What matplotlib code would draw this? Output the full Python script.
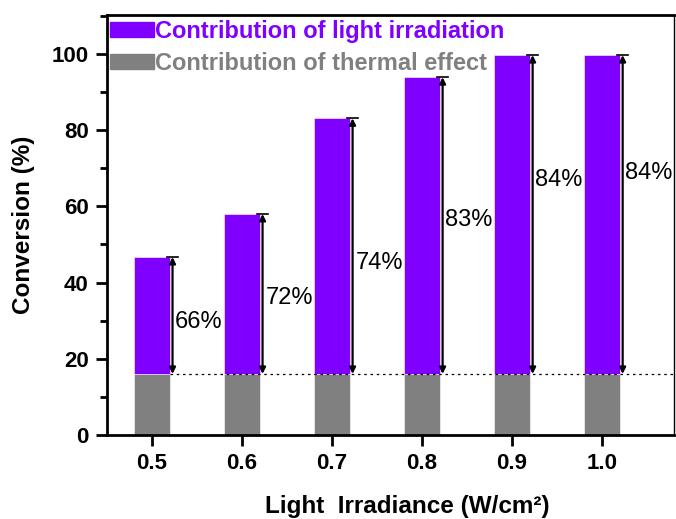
import numpy as np
import matplotlib
matplotlib.use('Agg')
import matplotlib.pyplot as plt
from matplotlib.patches import Patch
from matplotlib.ticker import MultipleLocator

plt.rcParams['font.family'] = ['Liberation Sans', 'DejaVu Sans']

irradiance = [0.5, 0.6, 0.7, 0.8, 0.9, 1.0]
tick_labels = ['0.5', '0.6', '0.7', '0.8', '0.9', '1.0']
thermal = [16, 16, 16, 16, 16, 16]
total = [46.7, 58.0, 83.1, 93.9, 99.7, 99.7]
light_share = ['66%', '72%', '74%', '83%', '84%', '84%']
label_y = [29.7, 36.0, 45.0, 56.4, 67.0, 68.8]

purple = '#8000ff'
grey = '#808080'
width = 0.04

fig = plt.figure(figsize=(6.76, 5.19), dpi=100)
ax = fig.add_axes([0.158, 0.162, 0.839, 0.809])

x = np.array(irradiance)
light = np.array(total) - np.array(thermal)
ax.bar(x, thermal, width, color=grey, edgecolor='white', linewidth=0.4)
ax.bar(x, light, width, bottom=thermal, color=purple, edgecolor='white', linewidth=0.4)

# dotted baseline of the thermal contribution
ax.plot([x[0] + width / 2, 1.08], [thermal[0], thermal[0]], ls=(0, (2, 3)), color='black', lw=0.9)

for xi, lo, hi, txt, ly in zip(x, thermal, total, light_share, label_y):
    xa = xi + width / 2 + 0.003
    ax.annotate('', xy=(xa, hi), xytext=(xa, lo),
                arrowprops=dict(arrowstyle='<|-|>', color='black', lw=1.6,
                                mutation_scale=9, shrinkA=0, shrinkB=0))
    ax.plot([xa - 0.006, xa + 0.006], [hi, hi], color='black', lw=1.2)
    ax.text(xa + 0.003, ly, txt, fontsize=17, ha='left', va='center')

ax.set_xlim(0.45, 1.08)
ax.set_ylim(0, 110.2)
ax.set_xticks(irradiance)
ax.set_xticklabels(tick_labels)
ax.yaxis.set_major_locator(MultipleLocator(20))
ax.yaxis.set_minor_locator(MultipleLocator(10))
ax.tick_params(axis='both', which='major', direction='out', length=8, width=2,
               labelsize=16, pad=5)
ax.tick_params(axis='y', which='minor', direction='out', length=5, width=2)
ax.tick_params(top=False, right=False)
for lab in ax.get_xticklabels() + ax.get_yticklabels():
    lab.set_fontweight('bold')

for side in ['left', 'bottom', 'top']:
    ax.spines[side].set_linewidth(2)
ax.spines['right'].set_linewidth(1)

ax.set_xlabel('Light  Irradiance (W/cm²)', fontsize=17.5, fontweight='bold', labelpad=15)
ax.xaxis.label.set_x(0.53)
ax.set_ylabel('Conversion (%)', fontsize=17.5, fontweight='bold', labelpad=12)

handles = [Patch(color=purple), Patch(color=grey)]
ax.legend(handles, ['Contribution of light irradiation', 'Contribution of thermal effect'],
          loc='upper left', bbox_to_anchor=(-0.003, 1.0), frameon=False,
          labelcolor=[purple, grey], prop={'weight': 'bold', 'size': 17},
          handlelength=1.86, handleheight=0.64, handletextpad=0.05, labelspacing=0.38,
          borderpad=0.2, borderaxespad=0)

fig.savefig('out.png', dpi=100)
